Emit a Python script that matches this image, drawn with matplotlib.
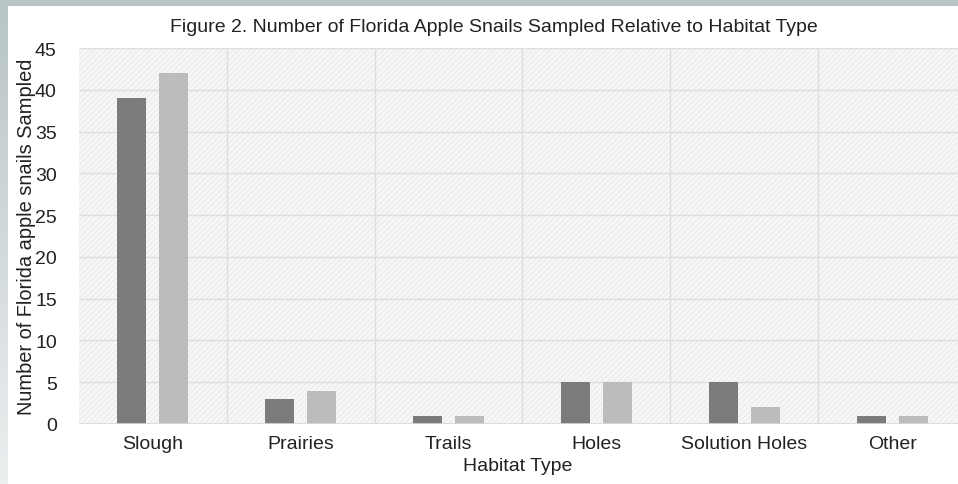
import matplotlib.pyplot as plt
import numpy as np
from matplotlib.patches import Rectangle

categories = ["Slough", "Prairies", "Trails", "Holes", "Solution Holes", "Other"]
series_a = [39, 3, 1, 5, 5, 1]
series_b = [42, 4, 1, 5, 2, 1]
yticks = [0, 5, 10, 15, 20, 25, 30, 35, 40, 45]

plt.rcParams['font.family'] = ['Liberation Sans', 'DejaVu Sans']
plt.rcParams['hatch.linewidth'] = 0.6

W, H = 958, 485
fig = plt.figure(figsize=(W / 100, H / 100), dpi=100)
fig.patch.set_facecolor("white")

# frame: grey-blue top bar and left gradient strip
bg = fig.add_axes([0, 0, 1, 1], zorder=-10)
bg.set_xlim(0, W)
bg.set_ylim(H, 0)
bg.axis("off")
grad = np.linspace(0, 1, 200).reshape(-1, 1)
top_c = np.array([0xb8, 0xc4, 0xc6]) / 255
bot_c = np.array([0xec, 0xef, 0xf0]) / 255
img = top_c + (bot_c - top_c) * grad[..., None]
bg.imshow(img, extent=[0, 8, H, 0], aspect="auto")
bg.add_patch(Rectangle((0, 0), W, 7, color="#b8c4c6", lw=0))

ax = fig.add_axes([79 / W, 1 - 425 / H, 887 / W, 376 / H])
ax.set_facecolor("white")
ax.add_patch(Rectangle((0, 0), 1, 1, transform=ax.transAxes, facecolor="#f6f6f6",
                       edgecolor="#e8e8e8", hatch="//////", lw=0, zorder=0))

x = np.arange(len(categories))
off, w = 0.142, 0.196
ax.bar(x - off, series_a, w, color="#7b7b7b", zorder=3)
ax.bar(x + off, series_b, w, color="#bcbcbd", zorder=3)

ax.set_xlim(-0.5, len(categories) - 0.5)
ax.set_ylim(0, 45)
ax.set_yticks(yticks)
for v in yticks[1:]:
    ax.axhline(v, color="#dedede", lw=1, zorder=1)
for b in np.arange(0.5, len(categories) - 0.5):
    ax.axvline(b, color="#dedede", lw=1, zorder=1)
ax.axhline(0, color="#d9d9d9", lw=1.2, zorder=4)

ax.set_xticks(x)
ax.set_xticklabels(categories, fontsize=14, color="#222222")
ax.tick_params(axis="x", length=0, pad=8)
ax.tick_params(axis="y", length=0, pad=16, labelsize=14, labelcolor="#222222")
for s in ax.spines.values():
    s.set_visible(False)

fig.text(494 / W, 1 - 28 / H, "Figure 2. Number of Florida Apple Snails Sampled Relative to Habitat Type",
         ha="center", va="center", fontsize=14, color="#222222")
fig.text(518 / W, 1 - 467 / H, "Habitat Type", ha="center", va="center", fontsize=14, color="#222222")
fig.text(27 / W, 1 - 237 / H, "Number of Florida apple snails Sampled", ha="center", va="center",
         rotation=90, fontsize=14.4, color="#222222")

fig.savefig("out.png", dpi=100)
